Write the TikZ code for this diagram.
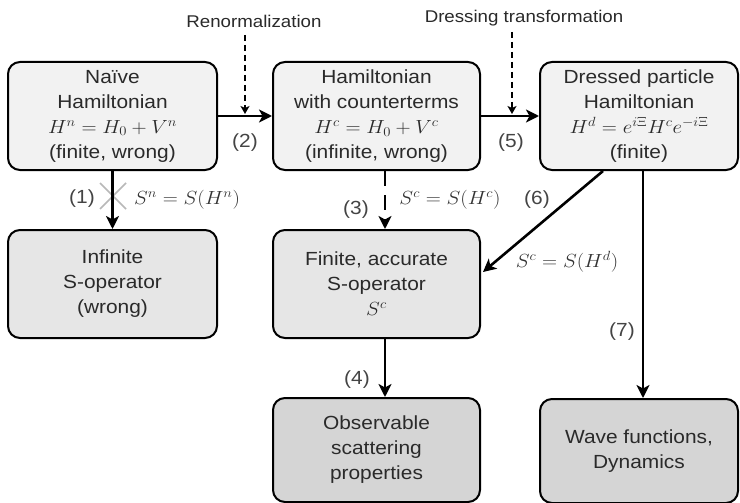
\RequirePackage{fix-cm}
\documentclass[tikz,border=0pt]{standalone}
\usepackage[no-math]{fontspec}
\setmainfont[FakeStretch=1.1]{Liberation Sans}
\usepackage{graphicx}
\usetikzlibrary{arrows.meta,calc}
\definecolor{ctop}{HTML}{F2F2F2}
\definecolor{cmid}{HTML}{E6E6E6}
\definecolor{cbot}{HTML}{D5D5D5}
\definecolor{ctext}{HTML}{2A2A2A}
\definecolor{clab}{HTML}{444444}
\definecolor{cmath}{HTML}{333333}
\definecolor{ccross}{HTML}{B8B8B8}
\newcommand\mth[1]{\scalebox{1.1}[1]{$#1$}}
\tikzset{
  box/.style={draw=black, line width=2pt, rounded corners=12pt, inner sep=0pt,
    align=center, text=ctext, font=\fontsize{19}{25}\selectfont},
  topbox/.style={box, fill=ctop, minimum height=108pt},
  midbox/.style={box, fill=cmid, minimum height=108pt},
  botbox/.style={box, fill=cbot, minimum height=104pt},
  conn/.style={line width=2.6pt, -{Stealth[length=13pt,width=13pt,inset=3.5pt]}},
  dconn/.style={conn, dash pattern=on 15pt off 9pt},
  thinconn/.style={line width=1.6pt, dash pattern=on 6pt off 4pt,
    -{Stealth[length=8pt,width=9pt,inset=2pt]}},
  lab/.style={text=clab, font=\fontsize{19}{25}\selectfont, inner sep=0pt},
  toplab/.style={text=ctext, font=\fontsize{17}{20}\selectfont, inner sep=0pt},
}
\begin{document}
\begin{tikzpicture}[x=1pt,y=-1pt]
\useasboundingbox[fill=white] (0,0) rectangle (740,503);
% boxes
\node[topbox, minimum width=209pt] (n1) at (112.5,116)
  {Naïve\\Hamiltonian\\\mth{H^n = H_0 + V^n}\\(finite, wrong)};
\node[topbox, minimum width=207pt] (n2) at (376.5,116)
  {Hamiltonian\\with counterterms\\\mth{H^c = H_0 + V^c}\\(infinite, wrong)};
\node[topbox, minimum width=198pt] (n3) at (639,116)
  {Dressed particle\\Hamiltonian\\\mth{H^d = e^{i\Xi} H^c e^{-i\Xi}}\\(finite)};
\node[midbox, minimum width=209pt] (inf) at (112.5,284)
  {Infinite\\S-operator\\(wrong)};
\node[midbox, minimum width=207pt] (fin) at (376.5,284)
  {Finite, accurate\\S-operator\\\mth{S^c}};
\node[botbox, minimum width=207pt] (obs) at (376.5,450)
  {Observable\\scattering\\properties};
\node[botbox, minimum width=198pt] (wave) at (639,451)
  {Wave functions,\\Dynamics};
% top annotations
\node[toplab] (ren) at (254,21) {Renormalization};
\node[toplab] (dre) at (524,18) {Dressing transformation};
\coordinate (r1) at (245,35);
\coordinate (r2) at (245,114);
\coordinate (d1) at (512,32);
\coordinate (d2) at (512,114);
\coordinate (x3) at (385,0);
\coordinate (x6) at (603,0);
\coordinate (x7) at (643,0);
% cross on arrow (1)
\draw[ccross, line width=1.5pt] (100,183) -- (126,209) (100,209) -- (126,183);
% connectors
\draw[conn] (n1.south) -- (inf.north);
\draw[conn] (n1.east) -- (n2.west);
\draw[conn] (n2.east) -- (n3.west);
\draw[dconn] (x3 |- n2.south) -- (x3 |- fin.north);
\draw[conn] (x3 |- fin.south) -- (x3 |- obs.north);
\draw[conn] (x6 |- n3.south) -- ($(fin.east)+(2,-12)$);
\draw[conn, line width=2.2pt] (x7 |- n3.south) -- (x7 |- wave.north);
\draw[thinconn] (r1) -- (r2);
\draw[thinconn] (d1) -- (d2);
% labels
\node[lab] (l1) at (82,199) {(1)};
\node[lab, text=cmath] (ls1) at (187,200) {\mth{S^n = S(H^n)}};
\node[lab] (l2) at (245,143) {(2)};
\node[lab] (l5) at (511,143) {(5)};
\node[lab] (l3) at (356,210) {(3)};
\node[lab, text=cmath] (ls3) at (450,200) {\mth{S^c = S(H^c)}};
\node[lab] (l6) at (537,200) {(6)};
\node[lab, text=cmath] (ls6) at (567,262) {\mth{S^c = S(H^d)}};
\node[lab] (l7) at (622,332) {(7)};
\node[lab] (l4) at (357,380) {(4)};
\end{tikzpicture}
\end{document}
